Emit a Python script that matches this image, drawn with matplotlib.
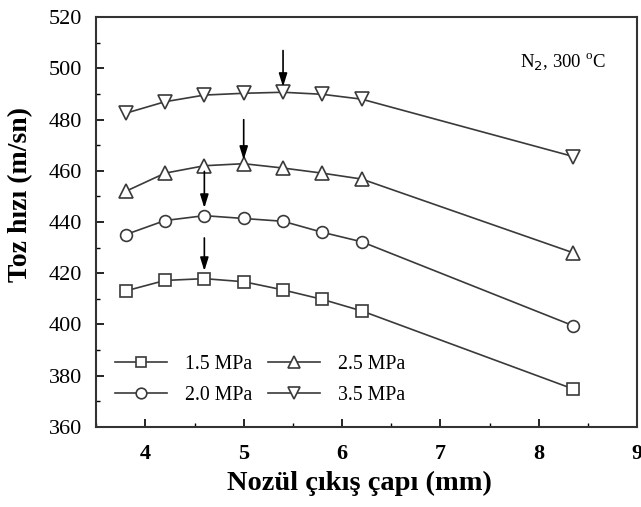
import numpy as np
import matplotlib.pyplot as plt
from matplotlib.ticker import MultipleLocator

plt.rcParams["font.family"] = ["Liberation Serif", "DejaVu Serif"]

# nozzle exit diameter (mm)
cap = [3.8, 4.2, 4.6, 5.0, 5.4, 5.8, 6.2, 8.35]

# particle velocity (m/s) per gas pressure
v_15 = [413.1, 417.2, 417.9, 416.7, 413.5, 409.8, 405.3, 374.8]
v_20 = [435.1, 440.6, 442.5, 441.4, 440.3, 436.0, 432.3, 399.5]
v_25 = [452.0, 459.1, 462.0, 462.8, 461.1, 459.1, 456.8, 428.0]
v_35 = [482.5, 487.0, 489.6, 490.3, 490.7, 489.9, 488.0, 465.6]

# arrows marking the optimum diameter: (x, y_start, y_tip)
oklar = [(5.4, 507.0, 492.8), (5.0, 480.0, 464.3), (4.6, 459.8, 445.5), (4.6, 433.8, 420.9)]

fig, ax = plt.subplots(figsize=(6.41, 5.07), dpi=100)
fig.subplots_adjust(left=0.150, right=0.994, top=0.966, bottom=0.158)

renk = "#3a3a3a"
stil = dict(color=renk, lw=1.2, mfc="white", mec=renk, mew=1.2)
l1, = ax.plot(cap, v_15, marker="s", ms=8, label="1.5 MPa", **stil)
l2, = ax.plot(cap, v_20, marker="o", ms=8.5, label="2.0 MPa", **stil)
l3, = ax.plot(cap, v_25, marker="^", ms=10, label="2.5 MPa", **stil)
l4, = ax.plot(cap, v_35, marker="v", ms=10, label="3.5 MPa", **stil)

for x, y0, y1 in oklar:
    ax.annotate("", xy=(x, y1), xytext=(x, y0),
                arrowprops=dict(arrowstyle="-|>,head_length=0.8,head_width=0.25",
                                color="black", lw=1.2, shrinkA=0, shrinkB=0))

ax.text(8.68, 502.5, "N$_2$, 300 $^\\mathregular{o}$C", ha="right", va="center",
        fontsize=13.5)

ax.set_xlim(3.5, 9)
ax.set_ylim(360, 520)
ax.xaxis.set_major_locator(MultipleLocator(1))
ax.xaxis.set_minor_locator(MultipleLocator(0.5))
ax.yaxis.set_major_locator(MultipleLocator(20))
ax.yaxis.set_minor_locator(MultipleLocator(10))
ax.tick_params(which="both", direction="in", top=False, right=False)
ax.tick_params(which="major", length=6, width=1.2, labelsize=16)
ax.tick_params(axis="x", which="major", pad=12)
ax.tick_params(axis="y", which="major", pad=10)
ax.tick_params(which="minor", length=3, width=1.0)
for lab in ax.get_xticklabels():
    lab.set_fontweight("bold")
for sp in ax.spines.values():
    sp.set_linewidth(1.5)
    sp.set_color("#333333")

ax.set_xlabel("Nozül çıkış çapı (mm)", fontsize=20.5, fontweight="bold")
ax.set_ylabel("Toz hızı (m/sn)", fontsize=20, fontweight="bold")
ax.xaxis.set_label_coords(0.486, -0.108)
ax.yaxis.set_label_coords(-0.116, 0.568)

ax.legend(handles=[l1, l2, l3, l4], ncol=2, loc="lower left",
          bbox_to_anchor=(0.01, 0.02), frameon=False, fontsize=14.3,
          handlelength=2.6, handletextpad=0.9, columnspacing=0.8,
          labelspacing=0.6, borderpad=0.2, markerscale=0.9)

plt.savefig("out.png", dpi=100)
